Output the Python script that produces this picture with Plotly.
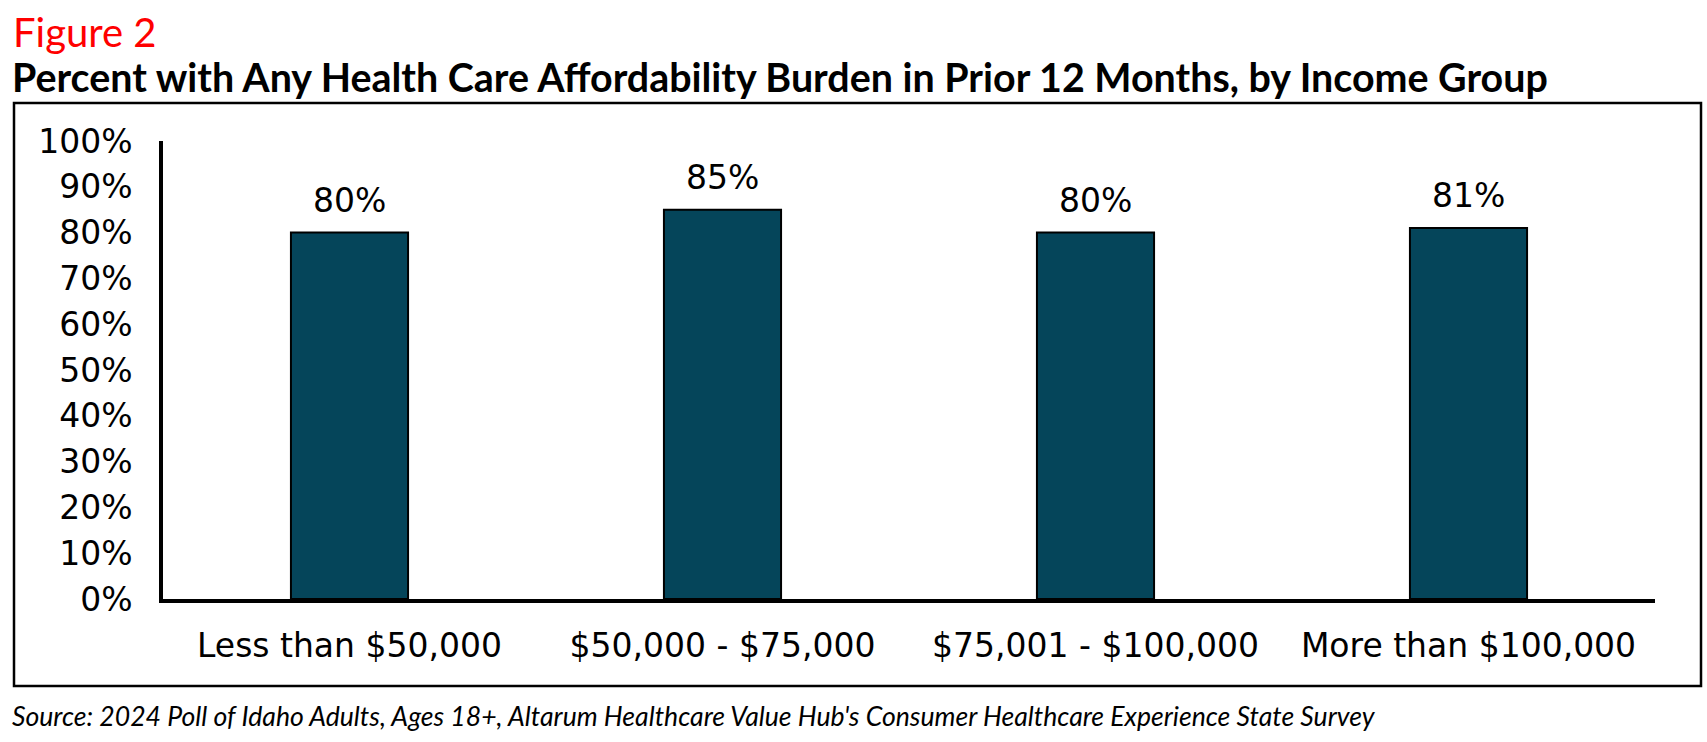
import plotly.graph_objects as go

categories = ["Less than $50,000", "$50,000 - $75,000", "$75,001 - $100,000", "More than $100,000"]
values = [80, 85, 80, 81]
y_ticks = [0, 10, 20, 30, 40, 50, 60, 70, 80, 90, 100]
y_tick_labels = [f"{t}%" for t in y_ticks]

W, H = 1707, 742
L, R, T, B = 163, 52, 141, 143
pw, ph = W - L - R, H - T - B

def px(x):
    return (x - L) / pw

def py(y):
    return (H - B - y) / ph

BAR = "#05455A"
AX_FONT = dict(family="DejaVu Sans", size=33, color="black")

fig = go.Figure()
fig.add_trace(go.Bar(
    x=categories, y=values,
    marker=dict(color=BAR, line=dict(color="black", width=2)),
    width=0.314,
    hoverinfo="skip",
))

for c, v in zip(categories, values):
    fig.add_annotation(x=c, y=v, text=f"{v}%", showarrow=False,
                       yanchor="bottom", yshift=11, font=AX_FONT)

fig.add_annotation(xref="paper", yref="paper", x=px(11), y=py(32), xanchor="left", yanchor="middle",
                   text="Figure 2", showarrow=False,
                   font=dict(family="Lato", size=40, color="#FF0000"))
fig.add_annotation(xref="paper", yref="paper", x=px(10), y=py(77), xanchor="left", yanchor="middle",
                   text="Percent with Any Health Care Affordability Burden in Prior 12 Months, by Income Group",
                   showarrow=False, font=dict(family="Lato", size=39.4, color="black", weight="bold"))
fig.add_annotation(xref="paper", yref="paper", x=px(10), y=py(716), xanchor="left", yanchor="middle",
                   text="<i>Source: 2024 Poll of Idaho Adults, Ages 18+, Altarum Healthcare Value Hub's Consumer Healthcare Experience State Survey</i>",
                   showarrow=False, font=dict(family="Lato", size=26.6, color="black"))

fig.add_shape(type="rect", xref="paper", yref="paper",
              x0=px(14), x1=px(1701), y0=py(686), y1=py(103),
              line=dict(color="black", width=2.5), fillcolor="rgba(0,0,0,0)", layer="below")

fig.update_layout(
    width=W, height=H,
    margin=dict(l=L, r=R, t=T, b=B, pad=0),
    paper_bgcolor="white", plot_bgcolor="white",
    showlegend=False,
    xaxis=dict(showline=True, linecolor="black", linewidth=3.5, ticks="", showgrid=False,
               tickfont=AX_FONT, ticklabelstandoff=15, fixedrange=True),
    yaxis=dict(range=[0, 100], tickvals=y_ticks, ticktext=y_tick_labels, showline=True,
               linecolor="black", linewidth=3.5, ticks="", showgrid=False, zeroline=False,
               tickfont=AX_FONT, ticklabelstandoff=20, fixedrange=True),
)

fig.write_html("out.html", config={"displayModeBar": False},
               post_script="document.body.style.margin='0';document.body.style.overflow='hidden';")
